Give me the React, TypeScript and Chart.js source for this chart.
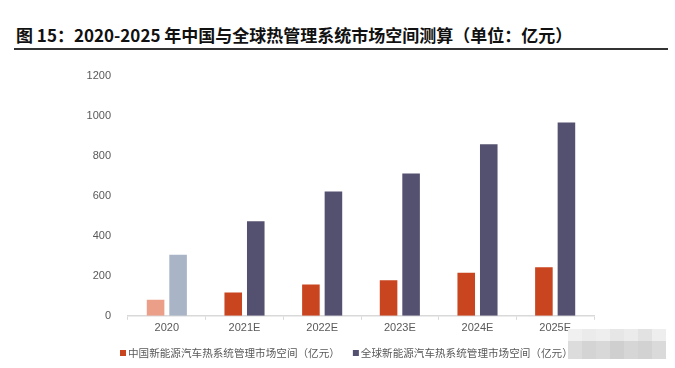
import React, { useEffect, useRef } from "react";
import { Chart, registerables } from "chart.js";

Chart.register(...registerables);

const categories = ["2020", "2021E", "2022E", "2023E", "2024E", "2025E"];
const chinaValues = [80, 117, 157, 178, 215, 243];
const globalValues = [305, 473, 622, 712, 858, 967];
const seriesNames = ["中国新能源汽车热系统管理市场空间（亿元）", "全球新能源汽车热系统管理市场空间（亿元）"];
const titleText = "图 15：2020-2025 年中国与全球热管理系统市场空间测算（单位：亿元）";

const seriesColors = ["#C8451F", "#545070"];
const actualColors = ["#EB9E88", "#A9B4C7"];
const blurTop = ["#F0F0F0", "#EBEBEB", "#EEEEEE", "#E6E6E6", "#EBEBEB", "#E2E2E2", "#EEEEEE"];
const blurBottom = ["#DCDCDC", "#D4D4D4", "#D8D8D8", "#CFCFCF", "#D6D6D6", "#D2D2D2", "#DADADA"];

const FONT = "'Liberation Sans', 'Noto Sans CJK SC', sans-serif";
const CJK = "'Noto Sans CJK SC', 'Liberation Sans', sans-serif";

const legendPlugin = {
  id: "customLegend",
  afterDraw(chart: any) {
    const ctx = chart.ctx as CanvasRenderingContext2D;
    ctx.save();
    ctx.font = `10.6px ${CJK}`;
    ctx.textBaseline = "middle";
    ctx.textAlign = "left";
    let x = 120;
    const y = 353;
    chart.data.datasets.forEach((d: any, i: number) => {
      ctx.fillStyle = seriesColors[i];
      ctx.fillRect(x, y - 3, 6, 6);
      ctx.fillStyle = "#595959";
      const t = d.label as string;
      ctx.fillText(t, x + 8, y);
      x += 8 + ctx.measureText(t).width + 13;
    });
    ctx.restore();
  },
};

export default function App() {
  const ref = useRef<HTMLCanvasElement | null>(null);

  useEffect(() => {
    if (!ref.current) return;
    const chinaColors = chinaValues.map((_, i) => (i === 0 ? actualColors[0] : seriesColors[0]));
    const globalColors = globalValues.map((_, i) => (i === 0 ? actualColors[1] : seriesColors[1]));
    const chart = new Chart(ref.current, {
      type: "bar",
      data: {
        labels: categories,
        datasets: [
          {
            label: seriesNames[0],
            data: chinaValues,
            backgroundColor: chinaColors,
            categoryPercentage: 0.58,
            barPercentage: 0.78,
          },
          {
            label: seriesNames[1],
            data: globalValues,
            backgroundColor: globalColors,
            categoryPercentage: 0.58,
            barPercentage: 0.78,
          },
        ],
      },
      options: {
        responsive: false,
        animation: false,
        layout: { padding: { left: 0, right: 81, top: 76, bottom: 31 } },
        plugins: {
          tooltip: { enabled: false },
          legend: { display: false },
        },
        scales: {
          x: {
            grid: {
              display: true,
              drawOnChartArea: false,
              drawTicks: true,
              tickLength: 4,
              color: "#D9D9D9",
              offset: true,
            },
            border: { display: true, color: "#D9D9D9", width: 1.5 },
            ticks: { color: "#595959", font: { size: 11, family: FONT }, padding: 2 },
          },
          y: {
            min: 0,
            max: 1200,
            ticks: {
              stepSize: 200,
              color: "#595959",
              font: { size: 11, family: FONT },
              padding: 9,
              callback: (v: any) => String(v),
            },
            grid: { display: false },
            border: { display: false },
            afterFit: (s: any) => {
              s.width = 128;
            },
          },
        },
      },
      plugins: [legendPlugin],
    });
    return () => chart.destroy();
  }, []);

  return (
    <div style={{ position: "fixed", left: 0, top: 0, width: 675, height: 368, background: "#fff", overflow: "hidden" }}>
      <div
        style={{
          position: "absolute",
          left: 16,
          top: 24,
          fontFamily: CJK,
          fontWeight: 700,
          fontSize: 17,
          color: "#111",
          whiteSpace: "nowrap",
          lineHeight: "22px",
        }}
      >
        {titleText}
      </div>
      <div style={{ position: "absolute", left: 14, top: 48, width: 654, height: 2, background: "#333" }} />
      <canvas ref={ref} width={675} height={368} style={{ position: "absolute", left: 0, top: 0 }} />
      {blurTop.map((c, i) => (
        <div key={"t" + i} style={{ position: "absolute", left: 568 + i * 14, top: 329, width: 14, height: 12, background: c }} />
      ))}
      {blurBottom.map((c, i) => (
        <div key={"b" + i} style={{ position: "absolute", left: 568 + i * 14, top: 341, width: 14, height: 18, background: c }} />
      ))}
    </div>
  );
}
